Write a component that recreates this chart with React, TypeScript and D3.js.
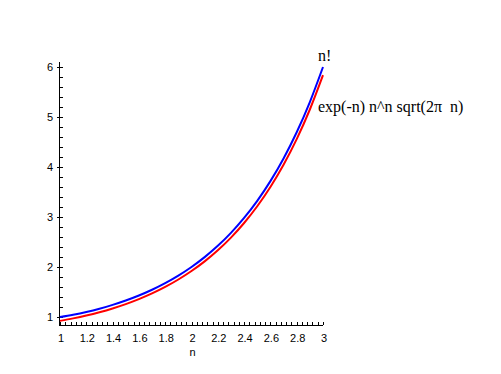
import React, { useEffect, useRef } from 'react';
import * as d3 from 'd3';

// sample points along n
const nValues = [1, 1.1, 1.2, 1.3, 1.4, 1.5, 1.6, 1.7, 1.8, 1.9, 2, 2.1, 2.2, 2.3, 2.4, 2.5, 2.6, 2.7, 2.8, 2.9, 3];
// n! (blue)
const factorialValues = [1, 1.0465, 1.1018, 1.1667, 1.2422, 1.3293, 1.4296, 1.5447, 1.6765, 1.8274, 2, 2.1976, 2.424, 2.6834, 2.9812, 3.3234, 3.717, 4.1707, 4.6942, 5.2995, 6];
// exp(-n) n^n sqrt(2 pi n) (red)
const stirlingValues = [0.9221, 0.9722, 1.0295, 1.0956, 1.1716, 1.2585, 1.358, 1.4716, 1.6014, 1.7497, 1.919, 2.1127, 2.3345, 2.5885, 2.88, 3.215, 3.6003, 4.0445, 4.5571, 5.15, 5.8363];
const xTicks = [1, 1.2, 1.4, 1.6, 1.8, 2, 2.2, 2.4, 2.6, 2.8, 3];
const yTicks = [1, 2, 3, 4, 5, 6];

const App = () => {
  const ref = useRef<SVGSVGElement>(null);

  useEffect(() => {
    const svg = d3.select(ref.current);
    svg.selectAll('*').remove();

    const x = d3.scaleLinear().domain([1, 3]).range([60, 323]);
    const y = d3.scaleLinear().domain([1, 6]).range([317, 67]);
    const yBottom = 325;
    const yTop = y(6.1);

    const g = svg.append('g');

    // x axis line and ticks (pointing up)
    g.append('line')
      .attr('x1', x(1)).attr('x2', x(3))
      .attr('y1', yBottom + 0.5).attr('y2', yBottom + 0.5)
      .attr('stroke', 'black').attr('stroke-width', 1);
    const xMinor = d3.range(0, 51).map(i => 1 + i * 0.04);
    g.selectAll('line.xminor')
      .data(xMinor)
      .enter()
      .append('line')
      .attr('class', 'xminor')
      .attr('x1', d => Math.round(x(d)) + 0.5)
      .attr('x2', d => Math.round(x(d)) + 0.5)
      .attr('y1', yBottom)
      .attr('y2', d => yBottom - 3)
      .attr('stroke', 'black');
    g.selectAll('text.xlab')
      .data(xTicks)
      .enter()
      .append('text')
      .attr('class', 'xlab')
      .attr('x', d => x(d) + 1)
      .attr('y', 342)
      .attr('text-anchor', 'middle')
      .attr('font-family', 'Liberation Sans, Arial, sans-serif')
      .attr('font-size', 11)
      .text(d => d3.format('~g')(d));
    g.append('text')
      .attr('x', x(2) + 1)
      .attr('y', 356)
      .attr('text-anchor', 'middle')
      .attr('font-family', 'Liberation Sans, Arial, sans-serif')
      .attr('font-size', 11)
      .text('n');

    // y axis line and ticks
    g.append('line')
      .attr('x1', x(1) - 0.5).attr('x2', x(1) - 0.5)
      .attr('y1', yBottom + 1).attr('y2', yTop)
      .attr('stroke', 'black').attr('stroke-width', 1);
    const yMinor = d3.range(0, 27).map(i => 0.8 + i * 0.2).filter(v => y(v) <= yBottom && v <= 6.1);
    g.selectAll('line.yminor')
      .data(yMinor)
      .enter()
      .append('line')
      .attr('class', 'yminor')
      .attr('x1', x(1))
      .attr('x2', x(1) + 3)
      .attr('y1', d => Math.round(y(d)) + 0.5)
      .attr('y2', d => Math.round(y(d)) + 0.5)
      .attr('stroke', 'black');
    g.selectAll('line.ymajor')
      .data(yTicks)
      .enter()
      .append('line')
      .attr('class', 'ymajor')
      .attr('x1', x(1) - 3)
      .attr('x2', x(1) + 3)
      .attr('y1', d => Math.round(y(d)) + 0.5)
      .attr('y2', d => Math.round(y(d)) + 0.5)
      .attr('stroke', 'black');
    g.selectAll('text.ylab')
      .data(yTicks)
      .enter()
      .append('text')
      .attr('class', 'ylab')
      .attr('x', 53)
      .attr('y', d => y(d) + 4)
      .attr('text-anchor', 'end')
      .attr('font-family', 'Liberation Sans, Arial, sans-serif')
      .attr('font-size', 11)
      .text(d => d);

    const line = (vals: number[]) =>
      d3.line<number>()
        .x((_, i) => x(nValues[i]))
        .y(d => y(d))
        .curve(d3.curveMonotoneX)(vals);

    g.append('path')
      .attr('d', line(stirlingValues))
      .attr('fill', 'none')
      .attr('stroke', '#ff0000')
      .attr('stroke-width', 2);
    g.append('path')
      .attr('d', line(factorialValues))
      .attr('fill', 'none')
      .attr('stroke', '#0000ff')
      .attr('stroke-width', 2);

    // curve labels
    g.append('text')
      .attr('x', 318)
      .attr('y', 61)
      .attr('font-family', 'Liberation Serif, Times New Roman, serif')
      .attr('font-size', 16)
      .text('n!');
    g.append('text')
      .attr('x', 318)
      .attr('y', 112)
      .attr('font-family', 'Liberation Serif, Times New Roman, serif')
      .attr('font-size', 16)
      .style('white-space', 'pre')
      .text('exp(-n) n^n sqrt(2π  n)');
  }, []);

  return (
    <svg ref={ref} width={501} height={374} style={{ position: 'absolute', left: 0, top: 0, background: 'white' }} />
  );
};

export default App;
